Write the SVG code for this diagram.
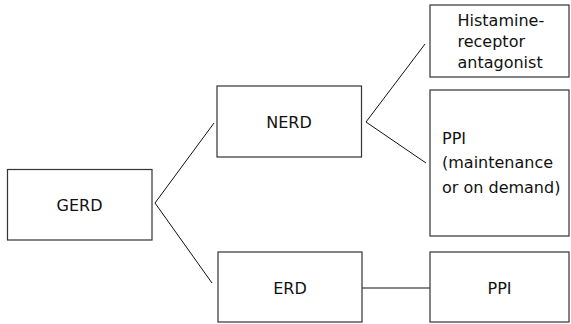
<svg xmlns="http://www.w3.org/2000/svg" width="571" height="324" viewBox="0 0 571 324">
<style>
.box{fill:#fff;stroke:#333;stroke-width:1.2}
.t{font-family:"DejaVu Sans",Verdana,sans-serif;font-size:16px;fill:#111}
.c{text-anchor:middle}
.ln{stroke:#111;stroke-width:1;fill:none}
</style>
<rect width="571" height="324" fill="#fff"/>
<g id="connectors">
<polyline class="ln" points="214,123 155,203 212,283"/>
<polyline class="ln" points="425,44 366,122 426,163"/>
<line class="ln" x1="362" y1="288" x2="430" y2="288"/>
</g>
<g id="gerd">
<rect class="box" x="7.5" y="169.5" width="144.5" height="70.5"/>
<text class="t c" x="79.5" y="211">GERD</text>
</g>
<g id="nerd">
<rect class="box" x="217" y="86" width="144.5" height="71"/>
<text class="t c" x="289" y="127.5">NERD</text>
</g>
<g id="erd">
<rect class="box" x="218" y="252" width="144" height="70"/>
<text class="t c" x="290" y="294">ERD</text>
</g>
<g id="histamine">
<rect class="box" x="430" y="5" width="139" height="72"/>
<text class="t" x="457.5" y="26">Histamine-</text>
<text class="t" x="457.5" y="47">receptor</text>
<text class="t" x="457.5" y="68">antagonist</text>
</g>
<g id="ppi-maint">
<rect class="box" x="430" y="90" width="139" height="146"/>
<text class="t" x="442" y="143.5">PPI</text>
<text class="t" x="442" y="168">(maintenance</text>
<text class="t" x="442" y="192.5">or on demand)</text>
</g>
<g id="ppi">
<rect class="box" x="430" y="252" width="139" height="70"/>
<text class="t c" x="499.5" y="294">PPI</text>
</g>
</svg>
